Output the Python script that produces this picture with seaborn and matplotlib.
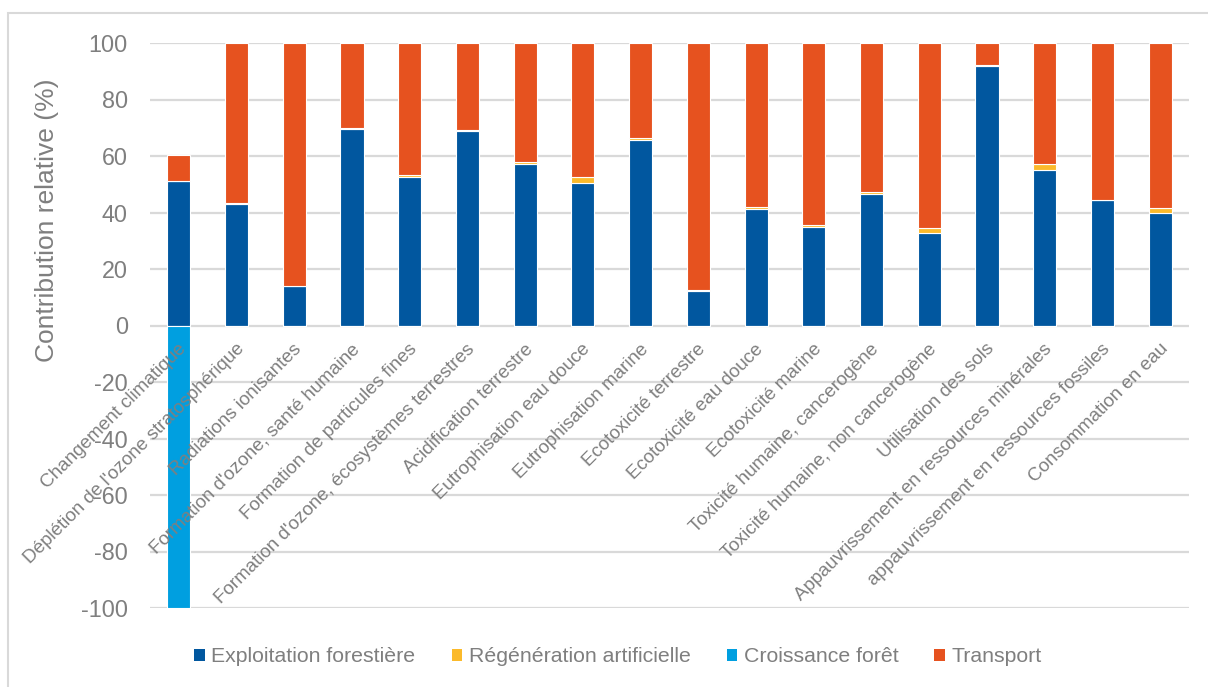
import matplotlib
matplotlib.use("Agg")
import matplotlib.pyplot as plt
import matplotlib.transforms as mtransforms
import seaborn as sns
import numpy as np
from matplotlib.patches import Patch, Rectangle

# Impact categories (x axis)
categories = [
    "Changement climatique",
    "Déplétion de l'ozone stratosphérique",
    "Radiations ionisantes",
    "Formation d'ozone, santé humaine",
    "Formation de particules fines",
    "Formation d'ozone, écosystèmes terrestres",
    "Acidification terrestre",
    "Eutrophisation eau douce",
    "Eutrophisation marine",
    "Ecotoxicité terrestre",
    "Ecotoxicité eau douce",
    "Ecotoxicité marine",
    "Toxicité humaine, cancerogène",
    "Toxicité humaine, non cancerogène",
    "Utilisation des sols",
    "Appauvrissement en ressources minérales",
    "appauvrissement en ressources fossiles",
    "Consommation en eau",
]

# Relative contribution of each stage (%)
exploitation = [51.0, 43.1, 13.9, 69.5, 52.7, 68.8, 57.1, 50.4, 65.6,
                12.3, 41.1, 34.8, 46.5, 32.7, 92.0, 55.2, 44.4, 40.0]
regeneration = [0.2, 0.1, 0.1, 0.5, 0.6, 0.5, 0.8, 2.0, 0.9,
                0.1, 0.8, 0.8, 0.9, 1.7, 0.1, 1.8, 0.2, 1.5]
croissance = [-100.0, 0, 0, 0, 0, 0, 0, 0, 0,
              0, 0, 0, 0, 0, 0, 0, 0, 0]
transport = [9.0, 56.8, 86.0, 30.0, 46.7, 30.7, 42.1, 47.6, 33.5,
             87.6, 58.1, 64.4, 52.6, 65.6, 7.9, 43.0, 55.4, 58.5]

series_names = ["Exploitation forestière", "Régénération artificielle",
                "Croissance forêt", "Transport"]
colors = ["#01579F", "#FBBA2B", "#009FE0", "#E6521F"]
yticks = [-100, -80, -60, -40, -20, 0, 20, 40, 60, 80, 100]
text_grey = "#7F7F7F"

sns.set_theme(style="white")
plt.rcParams["font.family"] = ["Liberation Sans", "DejaVu Sans"]

W, H = 1208, 687
fig = plt.figure(figsize=(W / 100, H / 100), dpi=100)
ax = fig.add_axes([150 / W, 1 - 608 / H, (1189 - 150) / W, (608 - 43) / H])

expl = np.array(exploitation)
regen = np.array(regeneration)

bar_kw = dict(width=0.4, ax=ax, saturation=1, linewidth=0.8,
              edgecolor="white", zorder=3)
sns.barplot(x=categories, y=exploitation, color=colors[0], **bar_kw)
sns.barplot(x=categories, y=regeneration, bottom=expl, color=colors[1], **bar_kw)
sns.barplot(x=categories, y=croissance, color=colors[2], **bar_kw)
sns.barplot(x=categories, y=transport, bottom=expl + regen, color=colors[3], **bar_kw)

ax.set_xlim(-0.5, len(categories) - 0.5)
ax.set_ylim(-100, 100)
ax.set_yticks(yticks)
ax.set_yticklabels([str(t) for t in yticks], fontsize=16.8, color=text_grey)
ax.tick_params(axis="y", length=0, pad=16)
ax.tick_params(axis="x", length=0)
ax.set_xticklabels([])
ax.set_xlabel("")
ax.grid(axis="y", color="#D9D9D9", linewidth=1.6, zorder=0)
ax.grid(axis="x", visible=False)
for s in ax.spines.values():
    s.set_visible(False)

ax.set_ylabel("Contribution relative (%)", fontsize=19, color=text_grey)
ax.yaxis.set_label_coords((59 - 150) / (1189 - 150), (608 - 220) / (608 - 43))

# Category labels hanging from the zero line
label_tr = mtransforms.offset_copy(ax.transData, fig=fig, x=-1, y=-15, units="dots")
for i, name in enumerate(categories):
    ax.text(i, 0, name, transform=label_tr, rotation=45, ha="right", va="top",
            rotation_mode="anchor", fontsize=13.6, color=text_grey)

# Legend
handles = [Patch(facecolor=c, edgecolor="none") for c in colors]
fig.legend(handles, series_names, loc="center", bbox_to_anchor=(618 / W, 1 - 657 / H),
           ncol=4, frameon=False, fontsize=15.3, labelcolor=text_grey,
           handlelength=0.5, handleheight=0.5, handletextpad=0.3,
           columnspacing=1.7)

# Chart border
fig.patches.append(Rectangle((8 / W, -0.02), 1.05, 1 - 13 / H + 0.02,
                             transform=fig.transFigure, fill=False,
                             edgecolor="#D9D9D9", linewidth=1.5))

fig.savefig("out.png", dpi=100)
